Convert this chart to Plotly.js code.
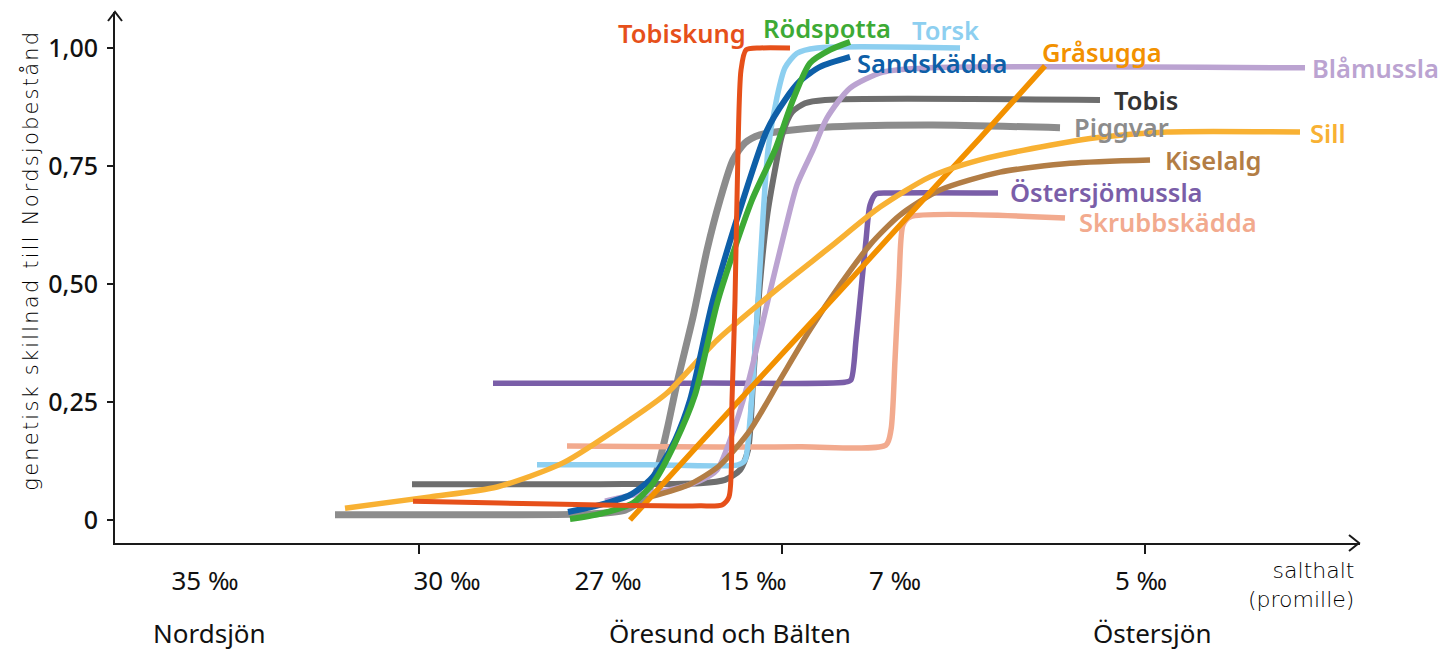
<!DOCTYPE html>
<html>
<head>
<meta charset="utf-8">
<script src="https://cdn.plot.ly/plotly-3.0.1.min.js"></script>
<style>html,body{margin:0;padding:0;background:#fff;}#chart{width:1443px;height:650px;}</style>
</head>
<body>
<div id="chart"></div>
<script>
// ---- data (x = position along the salinity gradient, y = genetic difference to North Sea stock) ----
const seriesNames = ["Piggvar","Tobis","Skrubbskädda","Östersjömussla","Torsk","Blåmussla","Kiselalg","Gråsugga","Sill","Sandskädda","Rödspotta","Tobiskung"];

const piggvarX = [335, 500, 590, 625, 645, 657, 667, 677, 693, 707, 720, 733, 745, 760, 783, 833, 933, 1060];
const piggvarY = [0.011, 0.011, 0.013, 0.021, 0.049, 0.106, 0.191, 0.290, 0.430, 0.572, 0.678, 0.763, 0.799, 0.816, 0.824, 0.833, 0.837, 0.831];

const tobisX = [412, 600, 700, 725, 740, 748, 753, 760, 767, 775, 782, 792, 805, 825, 1100];
const tobisY = [0.076, 0.076, 0.078, 0.085, 0.106, 0.148, 0.290, 0.502, 0.642, 0.742, 0.815, 0.864, 0.883, 0.890, 0.890];

const skrubbX = [567, 800, 886, 891, 895, 899, 903, 910, 1065];
const skrubbY = [0.157, 0.155, 0.159, 0.191, 0.339, 0.508, 0.625, 0.642, 0.640];

const ostmusslaX = [493, 700, 845, 851, 856, 861, 866, 870, 876, 890, 998];
const ostmusslaY = [0.290, 0.290, 0.292, 0.297, 0.381, 0.487, 0.593, 0.667, 0.691, 0.693, 0.693];

const torskX = [537, 650, 738, 745, 750, 757, 763, 768, 777, 785, 797, 817, 960];
const torskY = [0.117, 0.117, 0.117, 0.127, 0.212, 0.430, 0.642, 0.784, 0.896, 0.958, 0.989, 1.000, 1.000];

const blamusslaX = [605, 633, 670, 700, 717, 730, 748, 768, 785, 797, 813, 827, 850, 883, 930, 1305];
const blamusslaY = [0.040, 0.053, 0.064, 0.083, 0.106, 0.169, 0.290, 0.466, 0.614, 0.710, 0.784, 0.852, 0.915, 0.949, 0.958, 0.958];

const kiselalgX = [650, 690, 720, 750, 780, 810, 840, 870, 900, 940, 1000, 1070, 1150];
const kiselalgY = [0.049, 0.076, 0.116, 0.190, 0.297, 0.403, 0.498, 0.583, 0.646, 0.699, 0.737, 0.756, 0.763];

const grasuggaX = [630, 700, 780, 850, 913, 980, 1045];
const grasuggaY = [0.000, 0.163, 0.347, 0.508, 0.655, 0.809, 0.962];

const sillX = [345, 430, 497, 563, 630, 667, 717, 780, 830, 880, 930, 980, 1050, 1100, 1167, 1300];
const sillY = [0.025, 0.049, 0.070, 0.121, 0.212, 0.269, 0.381, 0.494, 0.578, 0.663, 0.727, 0.763, 0.794, 0.811, 0.822, 0.822];

const sandX = [568, 600, 630, 650, 662, 675, 690, 713, 743, 767, 785, 800, 820, 850];
const sandY = [0.017, 0.032, 0.053, 0.085, 0.119, 0.169, 0.254, 0.466, 0.678, 0.826, 0.890, 0.930, 0.960, 0.981];

const rodX = [570, 600, 633, 653, 675, 695, 718, 752, 775, 793, 810, 830, 850];
const rodY = [0.002, 0.013, 0.036, 0.078, 0.163, 0.265, 0.466, 0.678, 0.784, 0.890, 0.968, 0.996, 1.013];

const tobiskungX = [413, 500, 600, 700, 722, 729, 732, 735, 738, 741, 746, 760, 790];
const tobiskungY = [0.040, 0.036, 0.032, 0.030, 0.032, 0.049, 0.254, 0.466, 0.784, 0.953, 0.996, 1.000, 1.000];

const yTickVals = [0, 0.25, 0.5, 0.75, 1.0];
const yTickText = ["0", "0,25", "0,50", "0,75", "1,00"];
const xTickVals = [419, 782, 1145];
const salinityLabels = ["35 ‰", "30 ‰", "27 ‰", "15 ‰", "7 ‰", "5 ‰"];
const salinityPos = [205, 447, 608, 753, 895, 1141];
const regionLabels = ["Nordsjön", "Öresund och Bälten", "Östersjön"];
const regionPos = [209, 730, 1152];
const yTitle = "genetisk skillnad till Nordsjobestånd";
const xTitle = "salthalt<br>(promille)";

// ---- styles ----
const xs = {Piggvar: piggvarX, Tobis: tobisX, "Skrubbskädda": skrubbX, "Östersjömussla": ostmusslaX, Torsk: torskX, "Blåmussla": blamusslaX, Kiselalg: kiselalgX, "Gråsugga": grasuggaX, Sill: sillX, "Sandskädda": sandX, "Rödspotta": rodX, Tobiskung: tobiskungX};
const ys = {Piggvar: piggvarY, Tobis: tobisY, "Skrubbskädda": skrubbY, "Östersjömussla": ostmusslaY, Torsk: torskY, "Blåmussla": blamusslaY, Kiselalg: kiselalgY, "Gråsugga": grasuggaY, Sill: sillY, "Sandskädda": sandY, "Rödspotta": rodY, Tobiskung: tobiskungY};
const style = {
  Piggvar:        {color: "#8C8C8C", label: "#8C8C8C", w: 7,   dx: 12, dy: 1},
  Tobis:          {color: "#6E6E6E", label: "#333333", w: 6,   dx: 12, dy: 0},
  "Skrubbskädda": {color: "#F2AA8E", label: "#F2AA8E", w: 5.5, dx: 12, dy: -4},
  "Östersjömussla": {color: "#7A5EA8", label: "#7A5EA8", w: 5.5, dx: 10, dy: 1},
  Torsk:          {color: "#8DCFF0", label: "#8DCFF0", w: 5.5},
  "Blåmussla":    {color: "#BBA3D1", label: "#BBA3D1", w: 5.5, dx: 5, dy: 0},
  Kiselalg:       {color: "#B27D45", label: "#B27D45", w: 5.5, dx: 13, dy: 0},
  "Gråsugga":     {color: "#F29100", label: "#F29100", w: 5.5},
  Sill:           {color: "#F8B133", label: "#F8B133", w: 5.5, dx: 8, dy: -1},
  "Sandskädda":   {color: "#0E5FA8", label: "#0E5FA8", w: 6,   dx: 5, dy: -6},
  "Rödspotta":    {color: "#3DAA35", label: "#3DAA35", w: 6},
  Tobiskung:      {color: "#E6501A", label: "#E6501A", w: 5}
};
const fixedLabels = {
  Tobiskung:  {x: 748, y: 1.032, xanchor: "right"},
  "Rödspotta": {x: 761, y: 1.042, xanchor: "left"},
  Torsk:      {x: 910, y: 1.038, xanchor: "left"},
  "Gråsugga": {x: 1040, y: 0.992, xanchor: "left"}
};

const FONT = "'Noto Sans', 'Open Sans', sans-serif";
const LIGHT = "'DejaVu Sans', 'Open Sans', sans-serif";

const traces = seriesNames.map(n => ({
  type: "scatter", mode: "lines", name: n,
  x: xs[n], y: ys[n],
  line: {color: style[n].color, width: style[n].w, shape: "spline", smoothing: 0.7},
  hoverinfo: "name", showlegend: false, xaxis: "x", yaxis: "y"
}));
// invisible trace to activate xaxis2 (salinity tick labels)
traces.push({type: "scatter", mode: "markers", x: [salinityPos[0]], y: [0], xaxis: "x2", yaxis: "y",
  marker: {opacity: 0}, hoverinfo: "skip", showlegend: false});

const annotations = seriesNames.map(n => {
  const s = style[n];
  const f = fixedLabels[n];
  const xv = xs[n], yv = ys[n];
  const base = {text: n, showarrow: false, yanchor: "middle",
    font: {family: FONT, size: 25.5, color: s.label, weight: 600}};
  if (f) return Object.assign(base, {x: f.x, y: f.y, xanchor: f.xanchor});
  return Object.assign(base, {x: xv[xv.length - 1], y: yv[yv.length - 1], xanchor: "left", xshift: s.dx, yshift: s.dy});
});
regionLabels.forEach((t, i) => annotations.push({
  text: t, x: regionPos[i], xref: "x", y: -0.1695, yref: "paper", showarrow: false,
  xanchor: "center", yanchor: "middle", font: {family: FONT, size: 26, color: "#111"}
}));
annotations.push({text: xTitle, x: 1356, xref: "x", y: -0.0245, yref: "paper",
  xanchor: "right", yanchor: "top", align: "right", showarrow: false,
  font: {family: LIGHT, size: 22, color: "#000", weight: 200}});
// y-axis title
annotations.push({text: yTitle, textangle: -90, x: -0.0675, xref: "paper",
  y: 0.533, yref: "paper", xanchor: "center", yanchor: "middle", showarrow: false,
  font: {family: LIGHT, size: 21, color: "#000", weight: 200}});

const layout = {
  width: 1443, height: 650,
  margin: {l: 115, r: 83, t: 12, b: 107, pad: 0},
  paper_bgcolor: "#fff", plot_bgcolor: "#fff",
  showlegend: false,
  xaxis: {range: [115, 1360], showgrid: false, zeroline: false, showline: true, linecolor: "#1a1a1a", linewidth: 2,
    tickmode: "array", tickvals: xTickVals, ticks: "outside", ticklen: 9, tickwidth: 2, tickcolor: "#1a1a1a",
    showticklabels: false, fixedrange: true},
  xaxis2: {range: [115, 1360], overlaying: "x", anchor: "y", side: "bottom", showgrid: false, zeroline: false, showline: false,
    tickmode: "array", tickvals: salinityPos, ticktext: salinityLabels, ticks: "", ticklabelstandoff: 20,
    tickfont: {family: FONT, size: 26, color: "#111"}, fixedrange: true},
  yaxis: {range: [-0.0487, 1.0763], showgrid: false, zeroline: false, showline: true, linecolor: "#1a1a1a", linewidth: 2,
    tickmode: "array", tickvals: yTickVals, ticktext: yTickText, ticks: "outside", ticklen: 6, tickwidth: 2, tickcolor: "#1a1a1a",
    tickfont: {family: FONT, size: 25, color: "#111", weight: 500}, ticklabelstandoff: 4,
    fixedrange: true},
  annotations: annotations,
  shapes: [
    // arrowheads on the axis ends (paper coordinates, not clipped)
    {type: "path", xref: "paper", yref: "paper", path: "M 0.99116,0.01507 L 0.99920,0 L 0.99116,-0.01507", line: {color: "#1a1a1a", width: 2}},
    {type: "path", xref: "paper", yref: "paper", path: "M -0.005622,0.98305 L 0,1 L 0.005622,0.98305", line: {color: "#1a1a1a", width: 2}}
  ]
};

Plotly.newPlot("chart", traces, layout, {displayModeBar: false, staticPlot: true}).then(gd => {
  // the reference y title is set with wide letter spacing
  gd.querySelectorAll("text.annotation-text").forEach(t => {
    if (t.textContent === yTitle) t.style.letterSpacing = "2.2px";
  });
});
</script>
</body>
</html>
